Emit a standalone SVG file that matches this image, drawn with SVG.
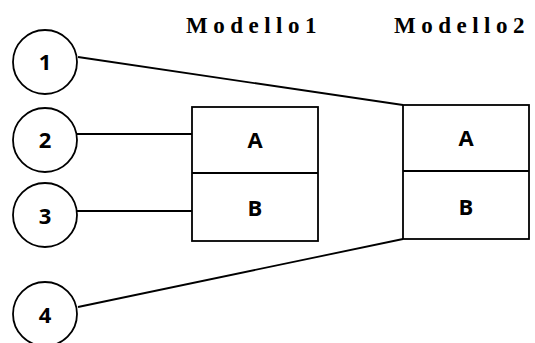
<svg xmlns="http://www.w3.org/2000/svg" width="535" height="343" viewBox="0 0 535 343">
  <style>
    .ring { fill: #fff; stroke: #000; stroke-width: 1.8; }
    .box { fill: #fff; stroke: #000; stroke-width: 1.8; }
    .wire { fill: none; stroke: #000; stroke-width: 1.8; }
    .num { font-family: "Open Sans", "Noto Sans", sans-serif; font-weight: bold; font-size: 22px; text-anchor: middle; fill: #000; }
    .cell { font-family: "Open Sans", "Noto Sans", sans-serif; font-weight: bold; font-size: 22px; text-anchor: middle; fill: #000; }
    .title { font-family: "Liberation Serif", serif; font-weight: bold; font-size: 23px; letter-spacing: 5.5px; fill: #000; }
  </style>

  <!-- connectors -->
  <g id="connectors">
    <line class="wire" x1="78" y1="57" x2="403" y2="105"/>
    <line class="wire" x1="77" y1="134" x2="192" y2="134"/>
    <line class="wire" x1="77" y1="211" x2="192" y2="211"/>
    <line class="wire" x1="78" y1="307" x2="403" y2="239"/>
  </g>

  <!-- headings -->
  <text class="title" x="186" y="33">Modello1</text>
  <text class="title" x="394" y="33">Modello2</text>

  <!-- numbered circles -->
  <g id="n1">
    <ellipse class="ring" cx="45" cy="62" rx="32" ry="32"/>
    <text class="num" x="45" y="70">1</text>
  </g>
  <g id="n2">
    <ellipse class="ring" cx="45" cy="140" rx="32" ry="32"/>
    <text class="num" x="45" y="148">2</text>
  </g>
  <g id="n3">
    <ellipse class="ring" cx="45" cy="215" rx="32" ry="32"/>
    <text class="num" x="45" y="224">3</text>
  </g>
  <g id="n4">
    <ellipse class="ring" cx="45" cy="314" rx="32" ry="32"/>
    <text class="num" x="45" y="323">4</text>
  </g>

  <!-- Modello1 table -->
  <g id="m1">
    <rect class="box" x="192" y="107" width="126" height="134"/>
    <line class="wire" x1="192" y1="173" x2="318" y2="173"/>
    <text class="cell" x="255" y="148">A</text>
    <text class="cell" x="255" y="216">B</text>
  </g>

  <!-- Modello2 table -->
  <g id="m2">
    <rect class="box" x="403" y="105" width="126" height="134"/>
    <line class="wire" x1="403" y1="171" x2="529" y2="171"/>
    <text class="cell" x="466" y="146">A</text>
    <text class="cell" x="466" y="215">B</text>
  </g>
</svg>
